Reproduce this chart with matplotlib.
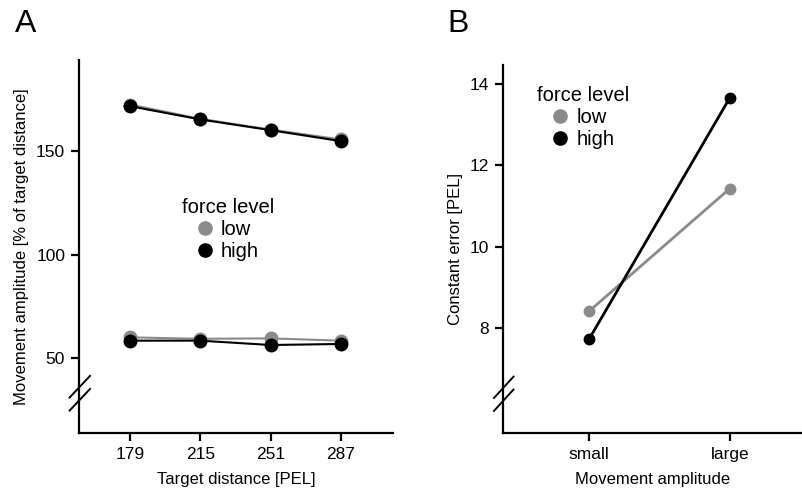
import matplotlib
matplotlib.use("Agg")
import matplotlib.pyplot as plt
from matplotlib.lines import Line2D

plt.rcParams['font.family'] = ['Liberation Sans', 'DejaVu Sans']

# panel A
distances = [179, 215, 251, 287]
amp_low_upper = [172.5, 165.6, 160.4, 155.6]
amp_high_upper = [171.7, 165.3, 160.1, 154.8]
amp_low_lower = [60.0, 59.3, 59.5, 58.4]
amp_high_lower = [58.4, 58.4, 56.3, 56.8]

# panel B
amplitudes = ["small", "large"]
err_low = [8.41, 11.43]
err_high = [7.72, 13.66]

gray = '#8a8a8a'
black = '#000000'

fig = plt.figure(figsize=(8.03, 4.92), dpi=100)

axA = fig.add_axes([0.0984, 0.12, 0.391, 0.758])
axB = fig.add_axes([0.6264, 0.12, 0.3736, 0.748])

for ax in (axA, axB):
    ax.spines['top'].set_visible(False)
    ax.spines['right'].set_visible(False)
    ax.spines['left'].set_linewidth(1.6)
    ax.spines['bottom'].set_linewidth(1.6)
    ax.tick_params(width=1.6, length=6, labelsize=12.5, pad=4)

# --- A ---
axA.plot(distances, amp_low_upper, '-o', color=gray, lw=1.5, ms=9)
axA.plot(distances, amp_low_lower, '-o', color=gray, lw=1.5, ms=9)
axA.plot(distances, amp_high_upper, '-o', color=black, lw=1.5, ms=9)
axA.plot(distances, amp_high_lower, '-o', color=black, lw=1.5, ms=9)
axA.set_xlim(153, 313.6)
axA.set_ylim(13.8, 194)
axA.set_xticks(distances)
axA.set_yticks([50, 100, 150])
axA.set_xlabel("Target distance [PEL]", fontsize=12, labelpad=7)
axA.set_ylabel("Movement amplitude [% of target distance]", fontsize=12, labelpad=5)

# --- B ---
xb = range(len(amplitudes))
axB.plot(xb, err_low, '-o', color=gray, lw=2, ms=7.5)
axB.plot(xb, err_high, '-o', color=black, lw=2, ms=7.5)
axB.set_xlim(-0.61, 1.52)
axB.set_ylim(5.42, 14.47)
axB.set_xticks(list(xb))
axB.set_xticklabels(amplitudes)
axB.set_yticks([8, 10, 12, 14])
axB.set_xlabel("Movement amplitude", fontsize=12, labelpad=7)
axB.set_ylabel("Constant error [PEL]", fontsize=12, labelpad=5)

# axis break marks
for ax in (axA, axB):
    for y0 in (0.06, 0.095):
        ax.plot([-0.03, 0.035], [y0, y0 + 0.058], transform=ax.transAxes,
                color=black, lw=1.4, clip_on=False)

handles = [Line2D([], [], ls='', marker='o', color=gray, ms=9.5),
           Line2D([], [], ls='', marker='o', color=black, ms=9.5)]
for ax, pos in ((axA, (0.474, 0.545)), (axB, (0.267, 0.857))):
    ax.legend(handles, ["low", "high"], title="force level", loc='center',
              bbox_to_anchor=pos, frameon=False, fontsize=14.5,
              title_fontsize=14.5, handlelength=0.8, handletextpad=0.4,
              labelspacing=0.15, borderpad=0)

fig.text(0.018, 0.935, "A", fontsize=23)
fig.text(0.557, 0.935, "B", fontsize=23)

fig.savefig("out.png", dpi=100)
